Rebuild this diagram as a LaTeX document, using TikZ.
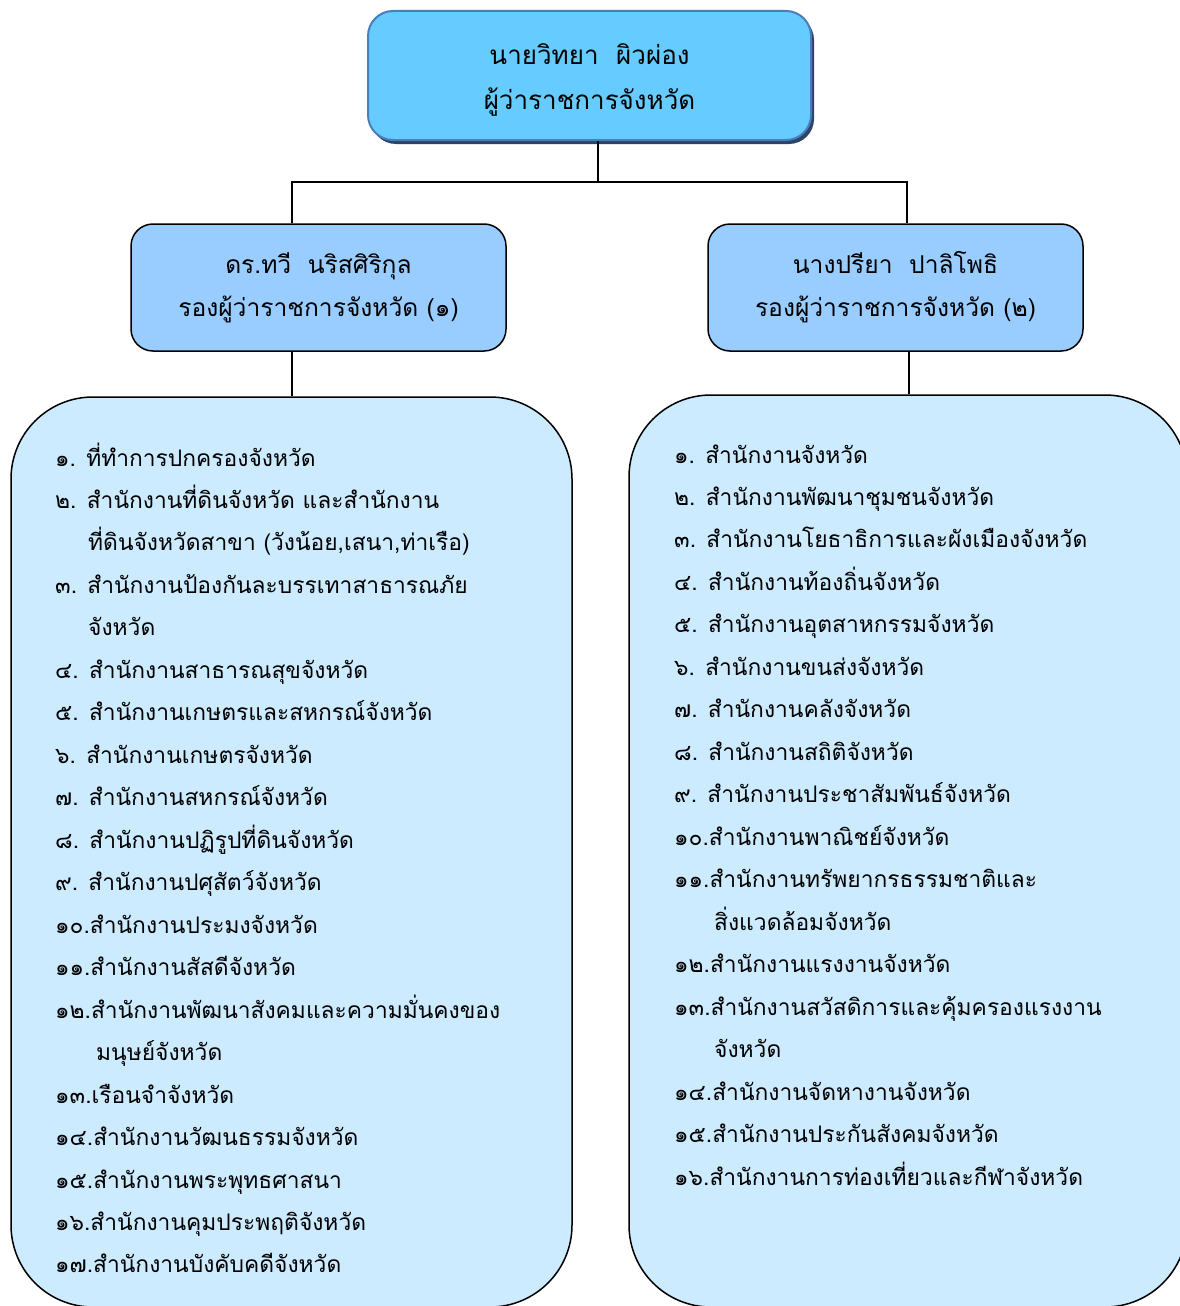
\documentclass[tikz,border=0pt]{standalone}
\usepackage{fontspec}
\newfontfamily\thaifont[Script=Thai]{Loma}
\usetikzlibrary{shadows}
\definecolor{topfill}{HTML}{66CCFF}
\definecolor{topline}{HTML}{4A7EBB}
\definecolor{topshadow}{HTML}{2B4468}
\definecolor{midfill}{HTML}{99CCFF}
\definecolor{listfill}{HTML}{CCEBFF}
\tikzset{
  topbox/.style={draw=topline, line width=2pt, fill=topfill, rounded corners=25pt,
    minimum width=443pt, minimum height=129pt, inner sep=0pt,
    drop shadow={shadow xshift=3pt, shadow yshift=-4pt, fill=topshadow, opacity=1}},
  toptext/.style={align=center, inner sep=0pt, font=\thaifont\fontsize{26}{45}\selectfont},
  midbox/.style={draw=black, line width=1.5pt, fill=midfill, rounded corners=22pt,
    minimum width=375pt, minimum height=127pt, align=center, inner sep=0pt,
    font=\thaifont\fontsize{24.6}{43}\selectfont},
  bigbox/.style={draw=black, line width=1.5pt, fill=listfill, rounded corners=82pt,
    inner sep=0pt},
  conn/.style={draw=black, line width=2.5pt},
  item/.style={anchor=base west, inner sep=0pt, font=\thaifont\fontsize{22.8}{24}\selectfont}
}
\begin{document}
\begin{tikzpicture}[x=1pt,y=-1pt]
\useasboundingbox (0,0) rectangle (1180,1306);
% big boxes
\node[bigbox, minimum width=561pt, minimum height=910pt] (lb) at (291.5,852) {};
\node[bigbox, minimum width=558pt, minimum height=912pt] (rb) at (908,851) {};
% top box
\node[topbox] (gov) at (589.5,75.5) {};
\node[toptext] (govt) at (589.5,79.5) {นายวิทยา\ \ ผิวผ่อง\\ผู้ว่าราชการจังหวัด};
% deputies
\node[midbox] (d1) at (318.5,287.5) {ดร.ทวี\ \ นริสศิริกุล\\รองผู้ว่าราชการจังหวัด (๑)};
\node[midbox] (d2) at (895.5,287.5) {นางปรียา\ \ ปาลิโพธิ\\รองผู้ว่าราชการจังหวัด (๒)};
% connectors
\coordinate (bus) at (598,182);
\draw[conn] ([xshift=8.5pt]gov.south) -- (bus);
\draw[conn] ([xshift=-26.5pt]d1.north) |- (bus) -| ([xshift=11.5pt]d2.north);
\draw[conn] ([xshift=-26.5pt]d1.south) -- ([xshift=-26.5pt]d1.south |- lb.north);
\draw[conn] ([xshift=13.5pt]d2.south) -- ([xshift=13.5pt]d2.south |- rb.north);
% left list
\def\ls{42.47}
\foreach \i/\x/\t in {
 0/55/{๑. ที่ทำการปกครองจังหวัด},
 1/55/{๒. สำนักงานที่ดินจังหวัด และสำนักงาน},
 2/88/{ที่ดินจังหวัดสาขา (วังน้อย,เสนา,ท่าเรือ)},
 3/55/{๓. สำนักงานป้องกันละบรรเทาสาธารณภัย},
 4/88/{จังหวัด},
 5/55/{๔. สำนักงานสาธารณสุขจังหวัด},
 6/55/{๕. สำนักงานเกษตรและสหกรณ์จังหวัด},
 7/55/{๖. สำนักงานเกษตรจังหวัด},
 8/55/{๗. สำนักงานสหกรณ์จังหวัด},
 9/55/{๘. สำนักงานปฏิรูปที่ดินจังหวัด},
 10/55/{๙. สำนักงานปศุสัตว์จังหวัด},
 11/55/{๑๐.สำนักงานประมงจังหวัด},
 12/55/{๑๑.สำนักงานสัสดีจังหวัด},
 13/55/{๑๒.สำนักงานพัฒนาสังคมและความมั่นคงของ},
 14/96/{มนุษย์จังหวัด},
 15/55/{๑๓.เรือนจำจังหวัด},
 16/55/{๑๔.สำนักงานวัฒนธรรมจังหวัด},
 17/55/{๑๕.สำนักงานพระพุทธศาสนา},
 18/55/{๑๖.สำนักงานคุมประพฤติจังหวัด},
 19/55/{๑๗.สำนักงานบังคับคดีจังหวัด}}
 {\node[item] (L\i) at (\x,466+\i*\ls) {\t};}
% right list
\foreach \i/\x/\t in {
 0/674/{๑. สำนักงานจังหวัด},
 1/674/{๒. สำนักงานพัฒนาชุมชนจังหวัด},
 2/674/{๓. สำนักงานโยธาธิการและผังเมืองจังหวัด},
 3/674/{๔. สำนักงานท้องถิ่นจังหวัด},
 4/674/{๕. สำนักงานอุตสาหกรรมจังหวัด},
 5/674/{๖. สำนักงานขนส่งจังหวัด},
 6/674/{๗. สำนักงานคลังจังหวัด},
 7/674/{๘. สำนักงานสถิติจังหวัด},
 8/674/{๙. สำนักงานประชาสัมพันธ์จังหวัด},
 9/674/{๑๐.สำนักงานพาณิชย์จังหวัด},
 10/674/{๑๑.สำนักงานทรัพยากรธรรมชาติและ},
 11/714/{สิ่งแวดล้อมจังหวัด},
 12/674/{๑๒.สำนักงานแรงงานจังหวัด},
 13/674/{๑๓.สำนักงานสวัสดิการและคุ้มครองแรงงาน},
 14/714/{จังหวัด},
 15/674/{๑๔.สำนักงานจัดหางานจังหวัด},
 16/674/{๑๕.สำนักงานประกันสังคมจังหวัด},
 17/674/{๑๖.สำนักงานการท่องเที่ยวและกีฬาจังหวัด}}
 {\node[item] (R\i) at (\x,463+\i*\ls) {\t};}
\end{tikzpicture}
\end{document}
